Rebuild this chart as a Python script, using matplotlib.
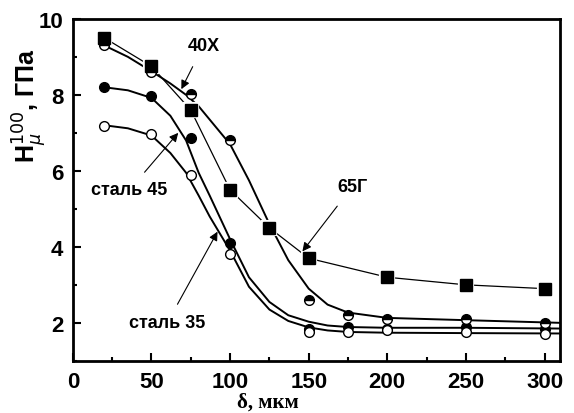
import matplotlib
matplotlib.use('Agg')
import matplotlib.pyplot as plt

# точки измерений
delta = [20, 50, 75, 100, 125, 150, 200, 250, 300]
h_65g = [9.5, 8.75, 7.6, 5.5, 4.5, 3.7, 3.2, 3.0, 2.9]

delta2 = [20, 50, 75, 100, 150, 175, 200, 250, 300]
h_40x = [9.3, 8.6, 8.03, 6.8, 2.6, 2.2, 2.1, 2.1, 2.0]
h_st45 = [8.2, 7.97, 6.87, 4.1, 1.85, 1.9, 1.85, 1.9, 1.85]
h_st35 = [7.18, 6.97, 5.88, 3.82, 1.75, 1.75, 1.8, 1.75, 1.7]

# сглаживающие кривые
fit_x = [20, 35, 50, 62, 72, 80, 87, 100, 112, 125, 137, 150, 162, 175, 200, 250, 310]
fit_40x = [9.3, 9.0, 8.62, 8.3, 8.0, 7.7, 7.35, 6.7, 5.75, 4.6, 3.65, 2.9, 2.48, 2.27, 2.13, 2.07, 2.0]
fit_45 = [8.2, 8.12, 7.92, 7.45, 6.8, 5.95, 5.35, 4.2, 3.2, 2.55, 2.2, 2.03, 1.93, 1.89, 1.87, 1.87, 1.85]
fit_35 = [7.2, 7.12, 6.93, 6.47, 5.95, 5.35, 4.8, 3.9, 2.95, 2.35, 2.05, 1.88, 1.8, 1.76, 1.74, 1.73, 1.72]

fig = plt.figure(figsize=(5.74, 4.14), dpi=100)
ax = fig.add_axes([0.127, 0.126, 0.849, 0.826])

lw = 1.4
ax.plot(fit_x, fit_40x, color='black', lw=lw)
ax.plot(fit_x, fit_45, color='black', lw=lw)
ax.plot(fit_x, fit_35, color='black', lw=lw)
ax.plot(delta, h_65g, color='black', lw=0.9)

# белая обводка маркеров -> разрыв линии у точки
ax.plot(delta, h_65g, ls='none', marker='s', ms=9, mfc='black', mec='white', mew=3)
ax.plot(delta, h_65g, ls='none', marker='s', ms=8, color='black')
ax.plot(delta2, h_st45, ls='none', marker='o', ms=7, mfc='black', mec='black', mew=1)
ax.plot(delta2, h_st35, ls='none', marker='o', ms=7, mfc='white', mec='black', mew=1)
ax.plot(delta2, h_40x, ls='none', marker='o', ms=7, mfc='black', mec='black', mew=1,
        fillstyle='top', markerfacecoloralt='white')

ax.set_xlim(0, 310)
ax.set_ylim(1, 10)
ax.set_xticks([0, 50, 100, 150, 200, 250, 300])
ax.set_xticks([25, 75, 125, 175, 225, 275], minor=True)
ax.set_yticks([2, 4, 6, 8, 10])
ax.set_yticks([1, 3, 5, 7, 9], minor=True)
ax.tick_params(which='both', direction='in', width=1.5)
ax.tick_params(which='major', length=6, labelsize=16, pad=7)
ax.tick_params(which='minor', length=3)
for lab in ax.get_xticklabels() + ax.get_yticklabels():
    lab.set_fontweight('bold')
    lab.set_family('Liberation Sans')
for s in ax.spines.values():
    s.set_linewidth(2)

ax.set_xlabel('δ, мкм', family='Liberation Serif', fontweight='bold', fontsize=15, va='center')
ax.xaxis.set_label_coords(0.40, -0.12)
ax.set_ylabel(r'H$_{\mu}^{100}$, ГПа', family='Liberation Sans', fontweight='bold',
              fontsize=18, va='center')
ax.yaxis.set_label_coords(-0.088, 0.75)

tf = dict(family='Liberation Sans', fontweight='bold', fontsize=13, ha='center', va='center')
ax.annotate('40X', xy=(69, 8.15), xytext=(83, 9.3), **tf,
            arrowprops=dict(arrowstyle='-|>', color='black', lw=0.8, shrinkA=8, shrinkB=0))
ax.annotate('65Г', xy=(146, 3.88), xytext=(178, 5.6), **tf,
            arrowprops=dict(arrowstyle='-|>', color='black', lw=0.8, shrinkA=8, shrinkB=0))
ax.annotate('сталь 45', xy=(67, 7.0), xytext=(36, 5.5), **tf,
            arrowprops=dict(arrowstyle='-|>', color='black', lw=0.8, shrinkA=6, shrinkB=0))
ax.annotate('сталь 35', xy=(92, 4.4), xytext=(60, 2.0), **tf,
            arrowprops=dict(arrowstyle='-|>', color='black', lw=0.8, shrinkA=6, shrinkB=0))

fig.savefig('out.png', dpi=100)
